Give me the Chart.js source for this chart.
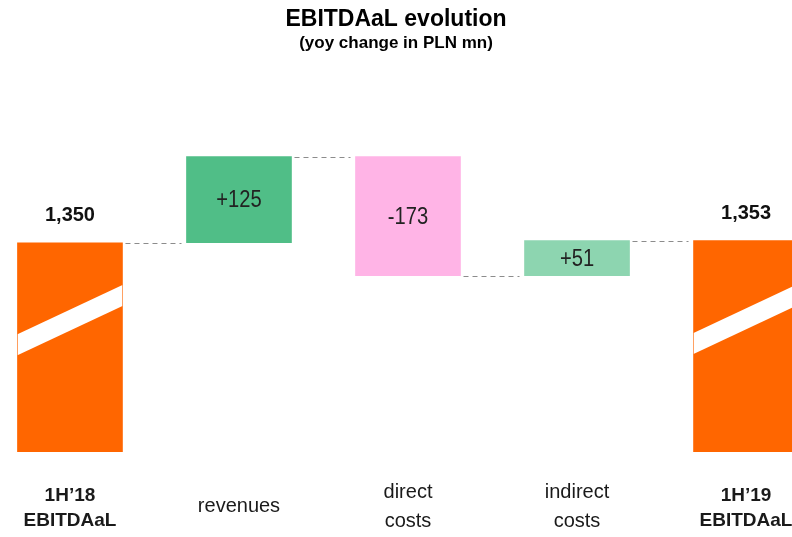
<!DOCTYPE html>
<html>
<head>
<meta charset="utf-8">
<title>EBITDAaL evolution</title>
<script src="https://cdn.jsdelivr.net/npm/chart.js@4"></script>
<style>
  html, body { margin: 0; padding: 0; background: #fff; }
</style>
</head>
<body>
<canvas id="myChart" width="792" height="537"></canvas>
<script>
// waterfall data (PLN mn)
const categories = [["1H\u201918", "EBITDAaL"], "revenues", ["direct", "costs"], ["indirect", "costs"], ["1H\u201919", "EBITDAaL"]];
const startValue = 1350;
const changes = [125, -173, 51];
const endValue = 1353;
const barColors = ["#ff6600", "#50be87", "#ffb4e6", "#8dd5b0", "#ff6600"];

// the axis is broken, bars for the totals start here
const axisFloor = 1046;
const axisTop = 1582;

const font = "'Liberation Sans', Arial, sans-serif";

// running totals -> floating bars
const levels = [startValue];
const ranges = [[axisFloor, startValue]];
let run = startValue;
changes.forEach(c => {
  ranges.push([run, run + c]);
  run += c;
  levels.push(run);
});
ranges.push([axisFloor, endValue]);
const totalIdx = [0, categories.length - 1];

const fmtTotal = v => v.toLocaleString('en-US');
const fmtChange = v => (v > 0 ? '+' : '') + v;

const waterfallExtras = {
  id: 'waterfallExtras',
  afterDatasetsDraw(chart) {
    const ctx = chart.ctx;
    const bars = chart.getDatasetMeta(0).data;
    const y = chart.scales.y;
    ctx.save();

    // dashed connectors between bars
    ctx.strokeStyle = '#8c8c8c';
    ctx.lineWidth = 1;
    ctx.setLineDash([5, 4]);
    for (let i = 0; i < bars.length - 1; i++) {
      const ly = Math.round(y.getPixelForValue(levels[i])) + 0.5;
      const a = bars[i], b = bars[i + 1];
      ctx.beginPath();
      ctx.moveTo(a.x + a.width / 2 + 3, ly);
      ctx.lineTo(b.x - b.width / 2 - 5, ly);
      ctx.stroke();
    }
    ctx.setLineDash([]);

    // white slanted break on the total bars
    totalIdx.forEach(i => {
      const el = bars[i];
      const left = el.x - el.width / 2, right = el.x + el.width / 2;
      const top = Math.min(el.y, el.base), bottom = Math.max(el.y, el.base);
      const mid = top + (bottom - top) * 0.37;
      const slope = 0.47, half = 10.5;
      ctx.save();
      ctx.beginPath();
      ctx.rect(left, top, el.width, bottom - top);
      ctx.clip();
      ctx.fillStyle = '#ffffff';
      ctx.beginPath();
      ctx.moveTo(left, mid + slope * el.width / 2 - half);
      ctx.lineTo(right, mid - slope * el.width / 2 - half);
      ctx.lineTo(right, mid - slope * el.width / 2 + half);
      ctx.lineTo(left, mid + slope * el.width / 2 + half);
      ctx.closePath();
      ctx.fill();
      ctx.restore();
    });

    // value labels
    ctx.textAlign = 'center';
    ctx.textBaseline = 'middle';
    ctx.fillStyle = '#111';
    ctx.font = 'bold 20px ' + font;
    ctx.fillText(fmtTotal(startValue), bars[0].x, bars[0].y - 27);
    ctx.fillText(fmtTotal(endValue), bars[bars.length - 1].x, bars[bars.length - 1].y - 27);

    // change labels, squeezed a little like a narrow face
    ctx.font = '24px ' + font;
    ctx.fillStyle = '#222';
    changes.forEach((c, k) => {
      const el = bars[k + 1];
      ctx.save();
      ctx.translate(el.x, (el.y + el.base) / 2 + 1);
      ctx.scale(0.84, 1);
      ctx.fillText(fmtChange(c), 0, 0);
      ctx.restore();
    });
    ctx.restore();
  }
};

new Chart(document.getElementById('myChart'), {
  type: 'bar',
  data: {
    datasets: [{
      data: ranges.map((r, i) => ({ x: i, y: r })),
      backgroundColor: barColors,
      borderWidth: 0,
      borderSkipped: false,
      barThickness: 105
    }]
  },
  options: {
    responsive: false,
    animation: false,
    layout: { padding: 0 },
    plugins: {
      legend: { display: false },
      tooltip: { enabled: false },
      title: {
        display: true,
        text: 'EBITDAaL evolution',
        color: '#000',
        font: { family: font, size: 23, weight: 'bold' },
        padding: { top: 6, bottom: 0 }
      },
      subtitle: {
        display: true,
        text: '(yoy change in PLN mn)',
        color: '#000',
        font: { family: font, size: 17, weight: 'bold' },
        padding: { top: 0, bottom: 29 }
      }
    },
    scales: {
      x: {
        type: 'linear',
        offset: false,
        min: -0.414,
        max: 4.272,
        grid: { display: false, drawTicks: false },
        border: { display: false },
        afterBuildTicks: s => { s.ticks = categories.map((c, i) => ({ value: i })); },
        afterFit: s => {
          s.height = 85;
          // let the outer labels sit near the canvas edge
          s.paddingLeft = 0;
          s.paddingRight = 0;
        },
        ticks: {
          autoSkip: false,
          maxRotation: 0,
          crossAlign: 'center',
          padding: 40,
          color: '#1a1a1a',
          callback: v => categories[v],
          font: c => totalIdx.includes(c.index)
            ? { family: font, size: 19, weight: 'bold', lineHeight: 1.35 }
            : { family: font, size: 20, weight: 'normal', lineHeight: 1.45 }
        }
      },
      y: {
        display: false,
        min: axisFloor,
        max: axisTop
      }
    }
  },
  plugins: [waterfallExtras]
});
</script>
</body>
</html>
